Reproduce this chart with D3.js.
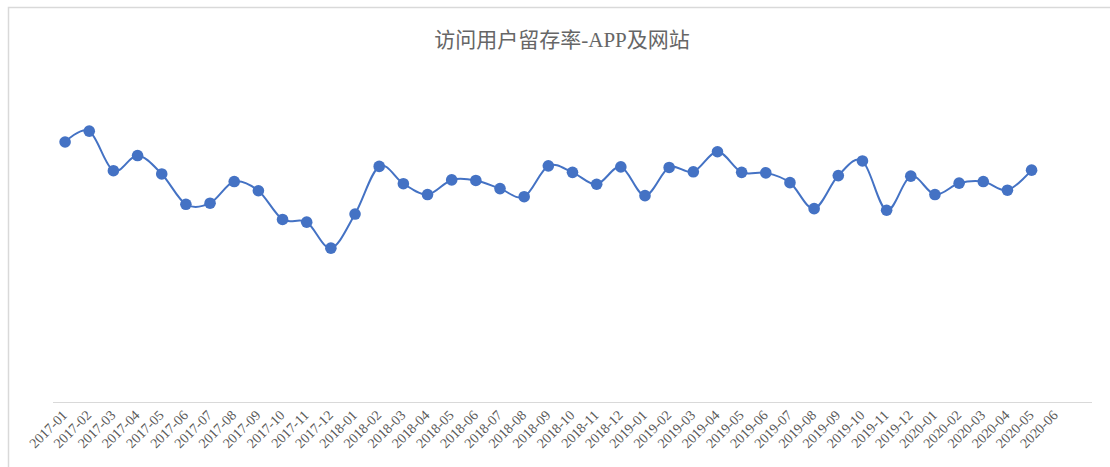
<!DOCTYPE html>
<html>
<head>
<meta charset="utf-8">
<script src="https://cdn.jsdelivr.net/npm/d3@7"></script>
<style>
  body { margin: 0; background: #fff; }
  text { font-family: "Liberation Serif", "Times New Roman", "Noto Sans CJK SC", serif; }
</style>
</head>
<body>
<div id="chart"></div>
<script>
// 月份 (最后一个为空位)
const months = ["2017-01","2017-02","2017-03","2017-04","2017-05","2017-06","2017-07","2017-08","2017-09","2017-10","2017-11","2017-12",
  "2018-01","2018-02","2018-03","2018-04","2018-05","2018-06","2018-07","2018-08","2018-09","2018-10","2018-11","2018-12",
  "2019-01","2019-02","2019-03","2019-04","2019-05","2019-06","2019-07","2019-08","2019-09","2019-10","2019-11","2019-12",
  "2020-01","2020-02","2020-03","2020-04","2020-05","2020-06",""]
// 留存率 (2020-06 无数据)
const retention = [0.480,0.500,0.427,0.455,0.421,0.365,0.367,0.407,0.390,0.337,0.332,0.284,
  0.347,0.435,0.403,0.383,0.410,0.409,0.394,0.379,0.436,0.424,0.402,0.434,
  0.381,0.433,0.425,0.462,0.424,0.423,0.405,0.357,0.418,0.445,0.354,0.417,
  0.383,0.404,0.407,0.391,0.428]
const title = "访问用户留存率-APP及网站"

const width = 1110
const height = 467
const color = "#4472C4"

const svg = d3.select("#chart").append("svg")
    .attr("width", width)
    .attr("height", height)

// 外框
svg.append("rect")
    .attr("x", 8.5).attr("y", 7.5)
    .attr("width", width + 20).attr("height", height + 20)
    .attr("fill", "none")
    .attr("stroke", "#d9d9d9")
    .attr("stroke-width", 1.5)

svg.append("text")
    .attr("x", 562)
    .attr("y", 47)
    .attr("text-anchor", "middle")
    .attr("font-size", 21)
    .attr("fill", "#666666")
    .text(title)

//比例尺
const x = d3.scaleBand().domain(d3.range(months.length)).range([53, 1092])
const y = d3.scaleLinear().domain([0, 0.6]).range([402, 77])

// x轴
svg.append("line")
    .attr("x1", 53).attr("x2", 1092)
    .attr("y1", 402.5).attr("y2", 402.5)
    .attr("stroke", "#d9d9d9")
    .attr("stroke-width", 1.2)

svg.append("g").selectAll("text")
    .data(months)
    .enter()
    .append("text")
    .attr("transform", (d, i) => `translate(${x(i) + x.bandwidth() / 2 + 3},${416}) rotate(-45)`)
    .attr("text-anchor", "end")
    .attr("font-size", 14)
    .attr("fill", "#595959")
    .text(d => d)

const line = d3.line()
    .x((d, i) => x(i) + x.bandwidth() / 2)
    .y(d => y(d))
    .curve(d3.curveCatmullRom.alpha(0))

svg.append("path")
    .datum(retention)
    .attr("d", line)
    .attr("fill", "none")
    .attr("stroke", color)
    .attr("stroke-width", 2)

svg.append("g").selectAll("circle")
    .data(retention)
    .enter()
    .append("circle")
    .attr("cx", (d, i) => x(i) + x.bandwidth() / 2)
    .attr("cy", d => y(d))
    .attr("r", 5.8)
    .attr("fill", color)
</script>
</body>
</html>
